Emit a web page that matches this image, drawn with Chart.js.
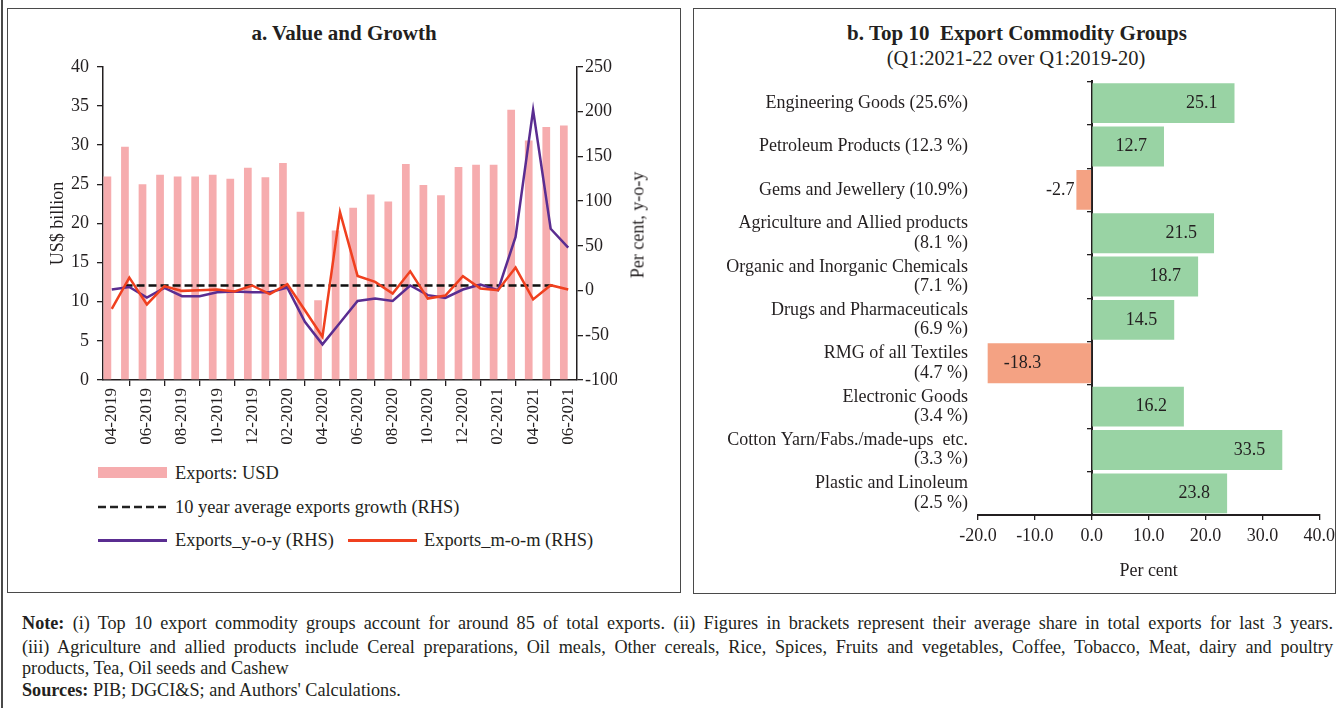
<!doctype html>
<html>
<head>
<meta charset="utf-8">
<script src="https://cdn.jsdelivr.net/npm/chart.js@4.4.1/dist/chart.umd.min.js"></script>
<style>
  body{margin:0;background:#fff;color:#231f20;font-family:"Liberation Serif",serif}
  #page{position:relative;width:1336px;height:708px;overflow:hidden;background:#fff}
  .box{position:absolute;border:1.5px solid #4a4a4a;box-sizing:border-box}
  .abs{position:absolute;white-space:nowrap}
  .title{font-weight:bold;font-size:21px;transform:translate(-50%,-50%)}
  .sub{font-size:20.5px;transform:translate(-50%,-50%)}
  .leg{font-size:18.4px;transform:translateY(-50%)}
  .note{position:absolute;left:22px;width:1311px;font-size:18.2px;line-height:22px;white-space:nowrap}
  .just{text-align:justify;text-align-last:justify;white-space:normal}
  canvas{position:absolute}
</style>
</head>
<body>
<div id="page">
  <div class="abs" style="left:1px;top:0;width:1.5px;height:708px;background:#4a4a4a"></div>
  <div class="box" style="left:7px;top:8px;width:674px;height:585px"></div>
  <div class="box" style="left:693px;top:8px;width:643px;height:586px"></div>

  <div class="abs title" style="left:344px;top:33px">a. Value and Growth</div>
  <div class="abs title" style="left:1017px;top:33px">b. Top 10&nbsp; Export Commodity Groups</div>
  <div class="abs sub" style="left:1016px;top:58px">(Q1:2021-22 over Q1:2019-20)</div>

  <canvas id="cA" width="672" height="412" style="left:8px;top:48px"></canvas>
  <div class="abs" style="left:638px;top:225px;font-size:18px;transform:translate(-50%,-50%) rotate(-90deg)">Per cent, y-o-y</div>

  <!-- legend, panel a -->
  <div class="abs" style="left:98px;top:467px;width:69px;height:11px;background:#f6acae"></div>
  <div class="abs leg" style="left:175px;top:473px">Exports: USD</div>
  <svg class="abs" style="left:98px;top:502px" width="70" height="10"><line x1="0" y1="5" x2="69" y2="5" stroke="#222" stroke-width="2.5" stroke-dasharray="8 4"/></svg>
  <div class="abs leg" style="left:175px;top:507px">10 year average exports growth (RHS)</div>
  <div class="abs" style="left:98px;top:539px;width:69px;height:2.5px;background:#5a2d91"></div>
  <div class="abs leg" style="left:175px;top:540px">Exports_y-o-y (RHS)</div>
  <div class="abs" style="left:348px;top:539px;width:69px;height:2.5px;background:#f0401f"></div>
  <div class="abs leg" style="left:424px;top:540px">Exports_m-o-m (RHS)</div>

  <canvas id="cB" width="646" height="530" style="left:694px;top:60px"></canvas>

  <div class="note just" style="top:612px"><b>Note:</b> (i) Top 10 export commodity groups account for around 85 of total exports. (ii) Figures in brackets represent their average share in total exports for last 3 years.</div>
  <div class="note just" style="top:636px">(iii) Agriculture and allied products include Cereal preparations, Oil meals, Other cereals, Rice, Spices, Fruits and vegetables, Coffee, Tobacco, Meat, dairy and poultry</div>
  <div class="note" style="top:657px">products, Tea, Oil seeds and Cashew</div>
  <div class="note" style="top:679px"><b>Sources:</b> PIB; DGCI&amp;S; and Authors' Calculations.</div>
</div>

<script>
// panel a: monthly exports (US$ bn) and growth rates (%)
const months = ['04-2019','05-2019','06-2019','07-2019','08-2019','09-2019','10-2019','11-2019','12-2019',
  '01-2020','02-2020','03-2020','04-2020','05-2020','06-2020','07-2020','08-2020','09-2020','10-2020',
  '11-2020','12-2020','01-2021','02-2021','03-2021','04-2021','05-2021','06-2021'];
const exportsUsd = [26.0, 29.8, 25.0, 26.2, 26.0, 26.0, 26.2, 25.7, 27.1, 25.9, 27.7, 21.5, 10.2, 19.1,
  22.0, 23.7, 22.8, 27.6, 24.9, 23.6, 27.2, 27.5, 27.5, 34.5, 30.6, 32.3, 32.5];
const growthYoy = [1.1, 4.0, -7.8, 2.9, -6.4, -6.4, -1.9, -1.1, -1.9, -1.9, 3.3, -35.0, -60.2, -36.0,
  -11.6, -9.0, -11.6, 5.6, -5.2, -8.2, 1.1, 6.7, 0.3, 59.8, 201.7, 69.0, 48.0];
const growthMom = [-20.5, 14.5, -15.6, 4.8, -0.4, 0.3, 1.1, -1.1, 5.6, -4.1, 7.0, -22.0, -51.7, 87.6,
  16.3, 9.6, -3.3, 21.5, -9.0, -5.6, 16.0, 2.2, 0.3, 25.6, -10.0, 5.9, 1.1];
const avgGrowth10y = 5.6;
const leftTicks = [0, 5, 10, 15, 20, 25, 30, 35, 40];
const rightTicks = [-100, -50, 0, 50, 100, 150, 200, 250];

// panel b: Q1:2021-22 over Q1:2019-20 growth (%)
const commodities = [
  ['Engineering Goods (25.6%)'],
  ['Petroleum Products (12.3 %)'],
  ['Gems and Jewellery (10.9%)'],
  ['Agriculture and Allied products', '(8.1 %)'],
  ['Organic and Inorganic Chemicals', '(7.1 %)'],
  ['Drugs and Pharmaceuticals', '(6.9 %)'],
  ['RMG of all Textiles', '(4.7 %)'],
  ['Electronic Goods', '(3.4 %)'],
  ['Cotton Yarn/Fabs./made-ups  etc.', '(3.3 %)'],
  ['Plastic and Linoleum', '(2.5 %)']
];
const commodityGrowth = [25.1, 12.7, -2.7, 21.5, 18.7, 14.5, -18.3, 16.2, 33.5, 23.8];
const growthTicks = [-20, -10, 0, 10, 20, 30, 40];

const INK = '#231f20';
const PINK = '#f6acae', PURPLE = '#5a2d91', RED = '#f0401f';
const GREEN = '#99d3a4', ORANGE = '#f4a283';

Chart.defaults.font.family = '"Liberation Serif", serif';
Chart.defaults.font.size = 18;
Chart.defaults.color = INK;
Chart.defaults.animation = false;

const fixSize = (w, h) => (scale) => {
  if (w != null) scale.width = w;
  if (h != null) scale.height = h;
};

new Chart(document.getElementById('cA'), {
  type: 'bar',
  data: {
    labels: months,
    datasets: [
      // bars sit in the left half of each month slot (Excel-style clustered look),
      // so they go on a hidden index axis shifted by a quarter month
      { type: 'bar', data: exportsUsd.map((v, i) => ({ x: i, y: v })), backgroundColor: PINK,
        xAxisID: 'xb', yAxisID: 'y', grouped: false, categoryPercentage: 1, barPercentage: 0.44, order: 10 },
      { type: 'line', data: [{ x: 0, y: avgGrowth10y }, { x: 1, y: avgGrowth10y }], xAxisID: 'x2', yAxisID: 'y1',
        borderColor: '#111', borderWidth: 2.5, borderDash: [8, 4], pointRadius: 0, order: 3 },
      { type: 'line', data: growthYoy, xAxisID: 'x', yAxisID: 'y1', borderColor: PURPLE, borderWidth: 2.5,
        pointRadius: 0, tension: 0, order: 2 },
      { type: 'line', data: growthMom, xAxisID: 'x', yAxisID: 'y1', borderColor: RED, borderWidth: 2.5,
        pointRadius: 0, tension: 0, order: 1 }
    ]
  },
  options: {
    responsive: false,
    layout: { padding: { left: 39, right: 63, top: 14, bottom: 0 } },
    plugins: { legend: { display: false }, tooltip: { enabled: false } },
    scales: {
      x: {
        type: 'category', offset: true,
        grid: { offset: true, drawOnChartArea: false, color: INK, tickLength: 6, lineWidth: 1.3 },
        border: { color: INK, width: 1.5 },
        ticks: {
          autoSkip: false, minRotation: 90, maxRotation: 90, padding: 2, font: { size: 17 },
          callback(v, i) { return i % 2 === 0 ? months[i] : null; }
        },
        afterFit: fixSize(null, 80)
      },
      xb: {
        type: 'linear', min: -0.25, max: months.length - 0.25, display: false,
        afterBuildTicks: (s) => { s.ticks = []; }
      },
      x2: { type: 'linear', min: 0, max: 1, display: false },
      y: {
        position: 'left', min: 0, max: 40,
        afterBuildTicks: (s) => { s.ticks = leftTicks.map(v => ({ value: v })); },
        grid: { drawOnChartArea: false, color: INK, tickLength: 6, lineWidth: 1.3 },
        border: { color: INK, width: 1.5 },
        ticks: { padding: 8 },
        title: { display: true, text: 'US$ billion', padding: 0, font: { size: 18 } },
        afterFit: fixSize(56, null)
      },
      y1: {
        position: 'right', min: -100, max: 250,
        afterBuildTicks: (s) => { s.ticks = rightTicks.map(v => ({ value: v })); },
        grid: { drawOnChartArea: false, color: INK, tickLength: 6, lineWidth: 1.3 },
        border: { color: INK, width: 1.5 },
        ticks: { padding: 2 },
        afterFit: fixSize(40, null)
      }
    }
  }
});

const barValueLabels = {
  id: 'barValueLabels',
  afterDatasetsDraw(chart) {
    const { ctx } = chart;
    const meta = chart.getDatasetMeta(0);
    ctx.save();
    ctx.font = '18px "Liberation Serif", serif';
    ctx.fillStyle = INK;
    ctx.textBaseline = 'middle';
    meta.data.forEach((bar, i) => {
      const v = commodityGrowth[i];
      const txt = v.toFixed(1);
      const w = ctx.measureText(txt).width;
      const len = Math.abs(bar.x - bar.base);
      let x;
      if (v >= 0) { ctx.textAlign = 'right'; x = bar.x - 17; }
      else if (len > w + 24) { ctx.textAlign = 'left'; x = bar.x + 16; }
      else { ctx.textAlign = 'right'; x = bar.x - 2; }
      ctx.fillText(txt, x, bar.y);
    });
    ctx.restore();
  }
};

new Chart(document.getElementById('cB'), {
  type: 'bar',
  data: {
    labels: commodities,
    datasets: [{
      data: commodityGrowth,
      backgroundColor: commodityGrowth.map(v => v < 0 ? ORANGE : GREEN),
      categoryPercentage: 1, barPercentage: 0.92
    }]
  },
  plugins: [barValueLabels],
  options: {
    indexAxis: 'y',
    responsive: false,
    layout: { padding: { left: 0, right: 17, top: 11, bottom: 8.2 } },
    plugins: { legend: { display: false }, tooltip: { enabled: false } },
    scales: {
      x: {
        min: -20, max: 40,
        afterBuildTicks: (s) => { s.ticks = growthTicks.map(v => ({ value: v })); },
        grid: { drawOnChartArea: false, color: INK, tickLength: 5, lineWidth: 1.3 },
        border: { color: INK, width: 2 },
        ticks: { padding: 5, callback: (v) => Number(v).toFixed(1) },
        title: { display: true, text: 'Per cent', padding: 0, font: { size: 18 } },
        afterFit: fixSize(null, 66.8)
      },
      y: {
        type: 'category', offset: true,
        grid: { display: false },
        border: { display: false },
        ticks: { autoSkip: false, padding: 2, font: { size: 18, lineHeight: 1.08 } },
        afterFit: fixSize(284, null)
      },
      y2: {
        type: 'category', axis: 'y', position: { x: 0 }, offset: true,
        grid: { offset: true, drawOnChartArea: false, color: INK, tickLength: 4, lineWidth: 1.3 },
        border: { color: INK, width: 2 },
        ticks: { display: false }
      }
    }
  }
});
</script>
</body>
</html>
